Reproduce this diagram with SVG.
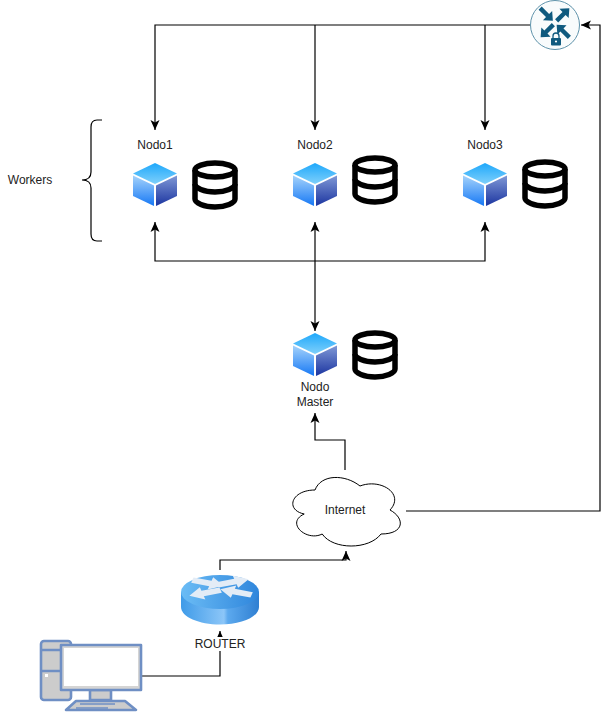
<svg xmlns="http://www.w3.org/2000/svg" width="609" height="712" viewBox="0 0 609 712">
<style>
text{font-family:"Liberation Sans",Arial,sans-serif;font-size:12px;fill:#222;text-anchor:middle}
.c{fill:none;stroke:#000;stroke-width:1.2}
.db{fill:none;stroke:#000;stroke-width:5.500}
.pc{stroke:#6f8fc4;stroke-width:2.6;stroke-linejoin:round}
</style>
<defs>
<marker id="a" markerUnits="userSpaceOnUse" markerWidth="12" markerHeight="12" refX="10" refY="5.500" orient="auto"><path d="M0 1L10 5.500L0 10L2.500 5.500Z" fill="#000"/></marker>
<linearGradient id="t" x1="0" y1="0" x2="0" y2="1"><stop offset="0" stop-color="#1ea8fb"/><stop offset="1" stop-color="#7fd0fb"/></linearGradient>
<linearGradient id="l" x1="0" y1="0" x2="0" y2="1"><stop offset="0" stop-color="#a5d3fb"/><stop offset="1" stop-color="#1678f5"/></linearGradient>
<linearGradient id="r" x1="0" y1="0" x2="0" y2="1"><stop offset="0" stop-color="#7f98d6"/><stop offset="1" stop-color="#1c35a0"/></linearGradient>
<linearGradient id="rs" x1="0" y1="0" x2="1" y2="0"><stop offset="0" stop-color="#3f9be8"/><stop offset=".55" stop-color="#8cc6f8"/><stop offset=".6" stop-color="#5ca9ee"/><stop offset="1" stop-color="#2f7fd2"/></linearGradient>
<linearGradient id="rt" x1="0" y1="0" x2="1" y2="0"><stop offset="0" stop-color="#6bbcf5"/><stop offset="1" stop-color="#2f86dc"/></linearGradient>
<path id="va" d="M-9 -2.200H1.500V-6.500L9 0L1.500 6.500V2.200H-9Z" fill="#0f5a7f"/>
<path id="ra" d="M-13 -3.500H2V-8L13 0L2 8V3.500H-13Z" fill="#e3ecf6"/>
<g id="cube">
<path d="M22 0L44 10.500L22 21L0 10.500Z" fill="url(#t)"/>
<path d="M0 12.500L21 22.500V43L0 33Z" fill="url(#l)"/>
<path d="M44 12.500L23 22.500V43L44 33Z" fill="url(#r)"/>
</g>
<g id="drum" class="db">
<ellipse cx="22" cy="9" rx="20" ry="7"/>
<path d="M2 9V38C2 42 11 46 22 46S42 42 42 38V9"/>
<path d="M2 23C2 27 11 31 22 31S42 27 42 23"/>
</g>
</defs>
<rect width="609" height="712" fill="#fff"/>
<g id="connectors">
<path class="c" d="M530 25H155V130" marker-end="url(#a)"/>
<path class="c" d="M315 25V130" marker-end="url(#a)"/>
<path class="c" d="M485 25V130" marker-end="url(#a)"/>
<path class="c" d="M315 261H155V222" marker-end="url(#a)"/>
<path class="c" d="M315 261H485V222" marker-end="url(#a)"/>
<path class="c" d="M315 261V222" marker-end="url(#a)"/>
<path class="c" d="M315 261V331" marker-end="url(#a)"/>
<path class="c" d="M345 470V440H315V413" marker-end="url(#a)"/>
<path class="c" d="M406 511H600V25H581" marker-end="url(#a)"/>
<path class="c" d="M220 570V560H346V551" marker-end="url(#a)"/>
<path class="c" d="M142 676H220V631" marker-end="url(#a)"/>
</g>
<g id="vpn">
<circle cx="555" cy="25" r="24.500" fill="#f8fbfc" stroke="#5f93ab" stroke-width="1"/>
<use href="#va" transform="translate(546.500 14.500) rotate(45)"/>
<use href="#va" transform="translate(563 14.500) rotate(-45)"/>
<use href="#va" transform="translate(547 31) rotate(135)"/>
<use href="#va" transform="translate(563 31) rotate(-135)"/>
<rect x="551" y="38" width="10" height="7.500" rx="1" fill="#0f5a7f"/>
<path d="M553 38V36A3 3 0 0 1 559 36V38" fill="none" stroke="#0f5a7f" stroke-width="1.300"/>
<circle cx="556" cy="41.500" r="1.100" fill="#fff"/>
</g>
<g id="workers">
<path class="c" d="M102 120H97Q91 120 91 127V172Q91 180 82 180Q91 180 91 188V234Q91 241 97 241H102"/>
<text x="30" y="184">Workers</text>
</g>
<g id="nodo1"><text x="155" y="149">Nodo1</text><use href="#cube" x="133" y="163"/><use href="#drum" x="193" y="161"/></g>
<g id="nodo2"><text x="315" y="149">Nodo2</text><use href="#cube" x="293" y="163"/><use href="#drum" x="353" y="156"/></g>
<g id="nodo3"><text x="485" y="149">Nodo3</text><use href="#cube" x="463" y="163"/><use href="#drum" x="523" y="160"/></g>
<g id="master"><use href="#cube" x="293" y="333"/><use href="#drum" x="353" y="331"/>
<text x="315" y="391">Nodo</text><text x="315" y="406">Master</text></g>
<g id="internet">
<path d="M315 490C291 490 285 510 304.200 514C285 522.800 306.600 542 322.200 534C333 550 369 550 381 534C405 534 405 518 390 510C405 494 381 478 360 486C345 474 321 474 315 490Z" fill="#fff" stroke="#000" stroke-width="1"/>
<text x="345" y="514">Internet</text>
</g>
<g id="router">
<path d="M181 592V607C181 617 199 624.500 220 624.500S259 617 259 607V592Z" fill="url(#rs)"/>
<ellipse cx="220" cy="592" rx="39" ry="17" fill="url(#rt)"/>
<use href="#ra" transform="translate(208 583) scale(1.250 .8) rotate(16)"/>
<use href="#ra" transform="translate(233 582) scale(1.250 .8) rotate(-16)"/>
<use href="#ra" transform="translate(205 593) scale(1.250 .8) rotate(164)"/>
<use href="#ra" transform="translate(236 592) scale(1.250 .8) rotate(196)"/>
<rect x="195" y="637" width="50" height="14" fill="#fff"/>
<text x="220" y="648">ROUTER</text>
</g>
<g id="pc" class="pc">
<rect x="41" y="641" width="30" height="59" rx="3" fill="#ccc"/>
<path d="M41 650H71M41 671H71" fill="none"/>
<rect x="90" y="690" width="21" height="10" fill="#ccc"/>
<rect x="61" y="645" width="80" height="45" fill="#d4d4d4"/>
<rect x="64" y="648" width="74" height="38" fill="#fff" stroke="none"/>
<path d="M76 701H125L136 710H66Z" fill="#ccc"/>
<path d="M80 704H115M76 708H108" fill="none" stroke-width="1.600"/>
<rect x="45" y="674" width="3" height="3" fill="#fff" stroke="none"/>
</g>
</svg>
